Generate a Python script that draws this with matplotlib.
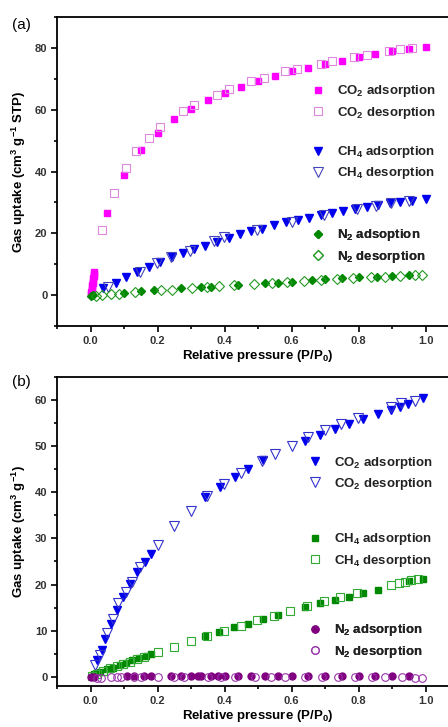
import matplotlib
matplotlib.use("Agg")
import matplotlib.pyplot as plt
from matplotlib.ticker import MultipleLocator

plt.rcParams["font.family"] = ["Liberation Sans", "DejaVu Sans"]
plt.rcParams["mathtext.default"] = "regular"

# ---------------------------------------------------------------- panel (a)
a_co2_ads_x = [0.001, 0.002, 0.003, 0.004, 0.005, 0.006, 0.007, 0.008, 0.009, 0.010, 0.011,
               0.05, 0.10, 0.15, 0.20, 0.25, 0.30, 0.35, 0.40, 0.45, 0.50, 0.55, 0.60,
               0.65, 0.70, 0.75, 0.80, 0.85, 0.90, 0.95, 1.00]
a_co2_ads_y = [0.3, 1.0, 1.8, 2.5, 3.3, 4.0, 4.7, 5.4, 6.1, 6.8, 7.5,
               26.5, 38.9, 46.8, 52.4, 57.1, 60.2, 63.2, 65.4, 67.4, 69.2, 70.8, 72.4,
               73.5, 74.9, 75.9, 77.0, 78.1, 78.9, 79.7, 80.3]
a_co2_des_x = [0.035, 0.07, 0.105, 0.137, 0.174, 0.207, 0.277, 0.31, 0.378, 0.413, 0.478,
               0.517, 0.582, 0.617, 0.689, 0.721, 0.786, 0.824, 0.89, 0.925, 0.96]
a_co2_des_y = [21.1, 33.2, 41.1, 46.5, 50.8, 54.3, 59.5, 61.6, 64.9, 66.7, 69.2,
               70.3, 72.4, 73.3, 74.9, 75.9, 77.1, 77.8, 78.9, 79.5, 80.0]

a_ch4_ads_x = [0.038, 0.075, 0.105, 0.139, 0.174, 0.207, 0.244, 0.277, 0.308, 0.343, 0.378,
               0.413, 0.446, 0.48, 0.512, 0.549, 0.585, 0.619, 0.652, 0.689, 0.721, 0.754,
               0.789, 0.824, 0.858, 0.894, 0.925, 0.96, 1.0]
a_ch4_ads_y = [2.2, 3.8, 5.7, 7.6, 9.2, 10.6, 12.2, 13.5, 14.8, 16.0, 17.3,
               18.6, 19.7, 20.6, 21.5, 22.6, 23.5, 24.3, 25.0, 25.8, 26.5, 27.2,
               27.9, 28.6, 29.1, 29.7, 30.2, 30.6, 31.0]
a_ch4_des_x = [0.052, 0.149, 0.199, 0.241, 0.298, 0.368, 0.398, 0.498, 0.602, 0.697,
               0.796, 0.851, 0.896, 0.95]
a_ch4_des_y = [2.7, 7.6, 10.3, 12.4, 14.4, 17.6, 18.7, 21.1, 23.8, 25.9,
               27.8, 28.9, 29.7, 30.4]

a_n2_ads_x = [0.002, 0.008, 0.10, 0.15, 0.19, 0.27, 0.33, 0.36, 0.44, 0.52, 0.56, 0.60,
              0.66, 0.70, 0.75, 0.80, 0.855, 0.90, 0.95]
a_n2_ads_y = [-0.2, 0.0, 0.8, 1.3, 1.6, 2.2, 2.5, 2.7, 3.2, 3.8, 4.0, 4.3,
              4.9, 5.1, 5.4, 5.7, 5.9, 6.2, 6.4]
a_n2_des_x = [0.015, 0.035, 0.06, 0.085, 0.134, 0.21, 0.244, 0.303, 0.348, 0.383, 0.428,
              0.488, 0.542, 0.587, 0.637, 0.687, 0.736, 0.784, 0.836, 0.88, 0.925, 0.97, 0.99]
a_n2_des_y = [-0.2, 0.0, 0.2, 0.3, 1.0, 1.6, 1.8, 2.4, 2.7, 2.9, 3.2,
              3.6, 4.0, 4.3, 4.5, 4.9, 5.1, 5.4, 5.7, 5.9, 6.2, 6.4, 6.4]

# ---------------------------------------------------------------- panel (b)
b_co2_ads_x = [0.018, 0.033, 0.043, 0.06, 0.078, 0.098, 0.117, 0.139, 0.162, 0.182,
               0.341, 0.386, 0.431, 0.471, 0.515, 0.64, 0.685, 0.729, 0.772, 0.814,
               0.857, 0.898, 0.923, 0.948, 0.993]
b_co2_ads_y = [3.7, 5.9, 8.1, 11.5, 14.4, 17.3, 20.2, 22.7, 24.9, 26.7,
               38.9, 41.1, 43.3, 45.1, 46.9, 51.2, 52.5, 53.7, 54.8, 55.9,
               57.0, 57.8, 58.5, 59.1, 60.4]
b_co2_des_x = [0.013, 0.028, 0.05, 0.068, 0.083, 0.105, 0.125, 0.147, 0.202, 0.249,
               0.299, 0.349, 0.398, 0.448, 0.513, 0.55, 0.6, 0.65, 0.699, 0.749,
               0.799, 0.898, 0.928, 0.968]
b_co2_des_y = [2.5, 4.7, 9.4, 12.6, 15.9, 18.4, 20.5, 23.8, 28.5, 32.6,
               35.9, 39.1, 41.8, 44.2, 46.7, 48.4, 50.1, 51.9, 53.4, 54.9,
               56.2, 58.5, 59.3, 59.8]

b_ch4_ads_x = [0.01, 0.028, 0.048, 0.068, 0.088, 0.105, 0.125, 0.145, 0.165, 0.182,
               0.341, 0.384, 0.428, 0.471, 0.515, 0.56, 0.64, 0.685, 0.729, 0.772,
               0.814, 0.857, 0.952, 0.993]
b_ch4_ads_y = [0.6, 1.1, 1.6, 2.0, 2.5, 3.0, 3.6, 4.1, 4.6, 5.0,
               8.8, 9.7, 10.7, 11.5, 12.6, 13.3, 15.1, 15.9, 16.7, 17.4,
               18.2, 18.9, 20.8, 21.3]
b_ch4_des_x = [0.003, 0.018, 0.038, 0.058, 0.078, 0.098, 0.117, 0.139, 0.159, 0.202,
               0.249, 0.299, 0.349, 0.398, 0.448, 0.498, 0.547, 0.597, 0.647, 0.697,
               0.746, 0.796, 0.898, 0.921, 0.938, 0.958, 0.978]
b_ch4_des_y = [0.1, 0.7, 1.2, 1.8, 2.3, 2.8, 3.2, 3.8, 4.3, 5.3,
               6.5, 7.7, 8.8, 9.9, 11.0, 12.3, 13.2, 14.3, 15.3, 16.4,
               17.3, 18.2, 20.0, 20.3, 20.6, 20.9, 21.2]

b_n2_ads_x = [0.0, 0.01, 0.11, 0.13, 0.16, 0.18, 0.24, 0.27, 0.30, 0.32, 0.33, 0.36,
              0.38, 0.40, 0.44, 0.48, 0.52, 0.56, 0.60, 0.65, 0.70, 0.75, 0.80, 0.85,
              0.90, 0.95]
b_n2_ads_y = [0.0, 0.0, 0.1, 0.1, 0.1, 0.1, 0.1, 0.1, 0.1, 0.1, 0.1, 0.1,
              0.2, 0.2, 0.2, 0.2, 0.2, 0.2, 0.2, 0.2, 0.2, 0.1, 0.1, 0.1,
              0.1, 0.1]
b_n2_des_x = [0.02, 0.03, 0.06, 0.08, 0.09, 0.13, 0.15, 0.20, 0.25, 0.28, 0.35, 0.39,
              0.43, 0.49, 0.54, 0.58, 0.64, 0.69, 0.74, 0.79, 0.84, 0.88, 0.93, 0.97, 0.99]
b_n2_des_y = [-0.2, -0.2, -0.1, -0.1, -0.1, -0.1, -0.1, -0.1, 0.0, 0.0, 0.0, 0.0,
              -0.1, -0.1, -0.1, -0.1, -0.1, -0.1, -0.1, -0.1, -0.1, -0.1, -0.1, -0.2, -0.2]


def style_axes(ax, xlim, ylim, ymajor, yminor):
    ax.set_xlim(*xlim)
    ax.set_ylim(*ylim)
    ax.xaxis.set_major_locator(MultipleLocator(0.2))
    ax.xaxis.set_minor_locator(MultipleLocator(0.1))
    ax.yaxis.set_major_locator(MultipleLocator(ymajor))
    ax.yaxis.set_minor_locator(MultipleLocator(yminor))
    ax.xaxis.set_major_formatter(lambda v, pos: f"{v:.1f}")
    ax.tick_params(which="both", direction="out", top=False, right=False,
                   width=1.2, labelsize=8, pad=2.5)
    ax.tick_params(which="major", length=4.5)
    ax.tick_params(which="minor", length=2.5)
    for lbl in ax.get_xticklabels() + ax.get_yticklabels():
        lbl.set_fontweight("bold")
        lbl.set_color("#333333")
    for sp in ax.spines.values():
        sp.set_linewidth(1.3)
    ax.set_xlabel("Relative pressure (P/P$_0$)", fontsize=9.5, fontweight="bold", labelpad=2)


def add_pair(ax, handles, y_center, x_left):
    # two-row legend block, the figure has three of them per panel
    leg = ax.legend(handles=handles, loc="center left", bbox_to_anchor=(x_left, y_center),
                    frameon=False, handlelength=1.0, handletextpad=0.9, borderpad=0,
                    borderaxespad=0, labelspacing=0.4,
                    prop={"size": 9.5, "weight": "bold"})
    for t in leg.get_texts():
        t.set_color("#222222")
    ax.add_artist(leg)


fig = plt.figure(figsize=(4.48, 7.27), dpi=100)

# --- (a) -------------------------------------------------------------------
ax_a = fig.add_axes([57 / 448, 1 - 326 / 727, 402 / 448, 309 / 727])
h1, = ax_a.plot(a_co2_ads_x, a_co2_ads_y, "s", ms=5, color="#ff00ff", mec="#ff00ff",
                label="CO$_2$ adsorption")
h2, = ax_a.plot(a_co2_des_x, a_co2_des_y, "s", ms=5.5, mfc="none", mec="#dd88dd", mew=0.8,
                label="CO$_2$ desorption")
h3, = ax_a.plot(a_ch4_ads_x, a_ch4_ads_y, "v", ms=6, color="#0000ee",
                label="CH$_4$ adsorption")
h4, = ax_a.plot(a_ch4_des_x, a_ch4_des_y, "v", ms=6.5, mfc="none", mec="#4444bb", mew=0.8,
                label="CH$_4$ desorption")
h5, = ax_a.plot(a_n2_ads_x, a_n2_ads_y, "D", ms=4.5, color="#008800",
                label="N$_2$ adsoption")
h6, = ax_a.plot(a_n2_des_x, a_n2_des_y, "D", ms=5, mfc="none", mec="#229922", mew=0.8,
                label="N$_2$ desorption")
style_axes(ax_a, (-0.1, 1.1), (-10, 90), 20, 10)
ax_a.set_ylabel("Gas uptake (cm$^3$ g$^{-1}$ STP)", fontsize=9.5, fontweight="bold", labelpad=5)
add_pair(ax_a, [h1, h2], 0.725, 0.634)
add_pair(ax_a, [h3, h4], 0.528, 0.634)
add_pair(ax_a, [h5, h6], 0.259, 0.634)
fig.text(12 / 448, 1 - 25 / 727, "(a)", fontsize=11, va="center", ha="left")

# --- (b) -------------------------------------------------------------------
ax_b = fig.add_axes([57 / 448, 1 - 686 / 727, 402 / 448, 309 / 727])
g1, = ax_b.plot(b_co2_ads_x, b_co2_ads_y, "v", ms=6, color="#0000ee",
                label="CO$_2$ adsorption")
g2, = ax_b.plot(b_co2_des_x, b_co2_des_y, "v", ms=6.5, mfc="none", mec="#3333cc", mew=0.8,
                label="CO$_2$ desorption")
g3, = ax_b.plot(b_ch4_ads_x, b_ch4_ads_y, "s", ms=5, color="#008800",
                label="CH$_4$ adsorption")
g4, = ax_b.plot(b_ch4_des_x, b_ch4_des_y, "s", ms=5.5, mfc="none", mec="#33aa33", mew=0.8,
                label="CH$_4$ desorption")
g5, = ax_b.plot(b_n2_ads_x, b_n2_ads_y, "o", ms=5, color="#800080",
                label="N$_2$ adsorption")
g6, = ax_b.plot(b_n2_des_x, b_n2_des_y, "o", ms=5.5, mfc="none", mec="#9933aa", mew=0.8,
                label="N$_2$ desorption")
style_axes(ax_b, (-0.1, 1.1), (-2, 65), 10, 5)
ax_b.set_ylabel("Gas uptake (cm$^3$ g$^{-1}$)", fontsize=9.5, fontweight="bold", labelpad=5)
add_pair(ax_b, [g1, g2], 0.688, 0.626)
add_pair(ax_b, [g3, g4], 0.440, 0.626)
add_pair(ax_b, [g5, g6], 0.146, 0.626)
fig.text(12 / 448, 1 - 382 / 727, "(b)", fontsize=11, va="center", ha="left")

fig.savefig("out.png", dpi=100)
